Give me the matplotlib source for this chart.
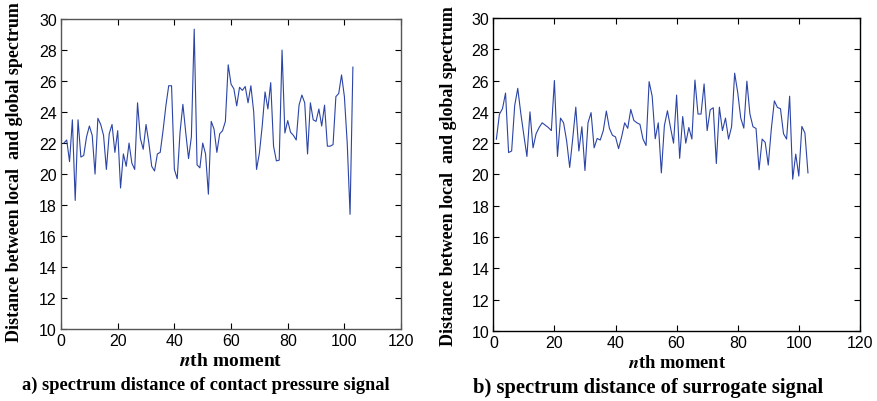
import numpy as np
import matplotlib
matplotlib.use("Agg")
from matplotlib import pyplot as plt

plt.rcParams['mathtext.fontset'] = 'stix'

# spectrum distance per moment, contact pressure signal
dist_pressure = [
    22.0, 22.2, 20.8, 23.5, 18.3, 23.5, 21.1, 21.2, 22.4, 23.1,
    22.5, 20.0, 23.6, 23.2, 22.5, 20.3, 22.6, 23.2, 21.4, 22.8,
    19.1, 21.3, 20.5, 22.0, 20.7, 20.3, 24.6, 22.3, 21.6, 23.2,
    22.0, 20.5, 20.2, 21.3, 21.4, 22.8, 24.4, 25.7, 25.7, 20.3,
    19.7, 22.7, 24.5, 22.7, 21.0, 22.4, 29.35, 20.6, 20.4, 22.0,
    21.3, 18.7, 23.4, 22.9, 21.4, 22.6, 22.8, 23.4, 27.05, 25.8,
    25.5, 24.4, 25.6, 25.4, 25.65, 24.6, 25.7, 24.0, 20.3, 21.35,
    23.1, 25.3, 24.2, 25.9, 21.8, 20.85, 20.9, 28.0, 22.65, 23.45,
    22.7, 22.5, 22.2, 24.45, 25.1, 24.6, 21.3, 24.6, 23.5, 23.4,
    24.2, 23.1, 24.45, 21.8, 21.8, 21.9, 25.0, 25.2, 26.4, 25.0,
    22.0, 17.4, 26.9,
]

# spectrum distance per moment, surrogate signal
dist_surrogate = [
    22.25, 23.85, 24.2, 25.2, 21.4, 21.5, 24.4, 25.5, 23.9, 22.5,
    21.15, 24.0, 21.7, 22.6, 23.0, 23.3, 23.15, 23.0, 22.8, 26.0,
    21.15, 23.6, 23.3, 22.15, 20.45, 22.3, 24.3, 21.5, 23.05, 20.25,
    23.3, 23.95, 21.7, 22.3, 22.2, 22.8, 24.05, 22.95, 22.5, 22.4,
    21.65, 22.4, 23.3, 22.95, 24.15, 23.45, 23.3, 23.2, 22.26, 21.85,
    25.93, 25.0, 22.28, 23.3, 20.1, 23.12, 24.07, 23.0, 22.0, 25.07,
    21.03, 23.7, 22.0, 23.0, 22.26, 26.03, 23.86, 23.86, 25.78, 22.8,
    24.13, 24.26, 20.7, 24.3, 22.8, 23.6, 22.26, 23.05, 26.47, 25.24,
    23.6, 22.96, 25.96, 23.86, 23.05, 22.94, 20.3, 22.26, 22.05, 20.6,
    22.9, 24.7, 24.28, 24.2, 22.6, 22.26, 25.0, 19.7, 21.3, 19.9,
    23.07, 22.65, 20.1,
]

moments = np.arange(1, len(dist_pressure) + 1)

xticks = [0, 20, 40, 60, 80, 100, 120]
yticks = [10, 12, 14, 16, 18, 20, 22, 24, 26, 28, 30]

ylabel = 'Distance between local  and global spectrum'
captions = ['a) spectrum distance of contact pressure signal',
            'b) spectrum distance of surrogate signal']

line_color = '#2b44a6'
serif = 'Liberation Serif'
tick_font = ['Liberation Sans Narrow', 'Liberation Sans']

fig = plt.figure(figsize=(8.77, 4.02), dpi=100)
ax1 = fig.add_axes([0.0696, 0.179, 0.3877, 0.771])
ax2 = fig.add_axes([0.5625, 0.174, 0.418, 0.779])

for ax, data, spine_col in ((ax1, dist_pressure, '#555555'),
                            (ax2, dist_surrogate, 'black')):
    ax.plot(moments, data, color=line_color, lw=0.8)
    ax.set_xlim(0, 120)
    ax.set_ylim(10, 30)
    ax.set_xticks(xticks)
    ax.set_yticks(yticks)
    ax.tick_params(direction='in', top=True, right=True, length=4,
                   width=0.8, labelsize=11.5, pad=3)
    for lab in ax.get_xticklabels() + ax.get_yticklabels():
        lab.set_family(tick_font)
    for s in ax.spines.values():
        s.set_color(spine_col)
        s.set_linewidth(1.0)

ax1.set_xlabel(r'$\mathbfit{n}$th moment', family=serif,
               fontweight='bold', fontsize=14, labelpad=3)
ax2.set_xlabel(r'$\mathbfit{n}$th moment', family=serif,
               fontweight='bold', fontsize=13.3, labelpad=3)

fig.text(0.017, 0.571, ylabel, rotation=90, ha='center', va='center',
         family=serif, fontweight='bold', fontsize=13)
fig.text(0.511, 0.562, ylabel, rotation=90, ha='center', va='center',
         family=serif, fontweight='bold', fontsize=13)

fig.text(0.235, 0.042, captions[0], ha='center', va='center',
         family=serif, fontweight='bold', fontsize=13.2)
fig.text(0.739, 0.036, captions[1], ha='center', va='center',
         family=serif, fontweight='bold', fontsize=14.8)

fig.savefig('out.png', dpi=100)
